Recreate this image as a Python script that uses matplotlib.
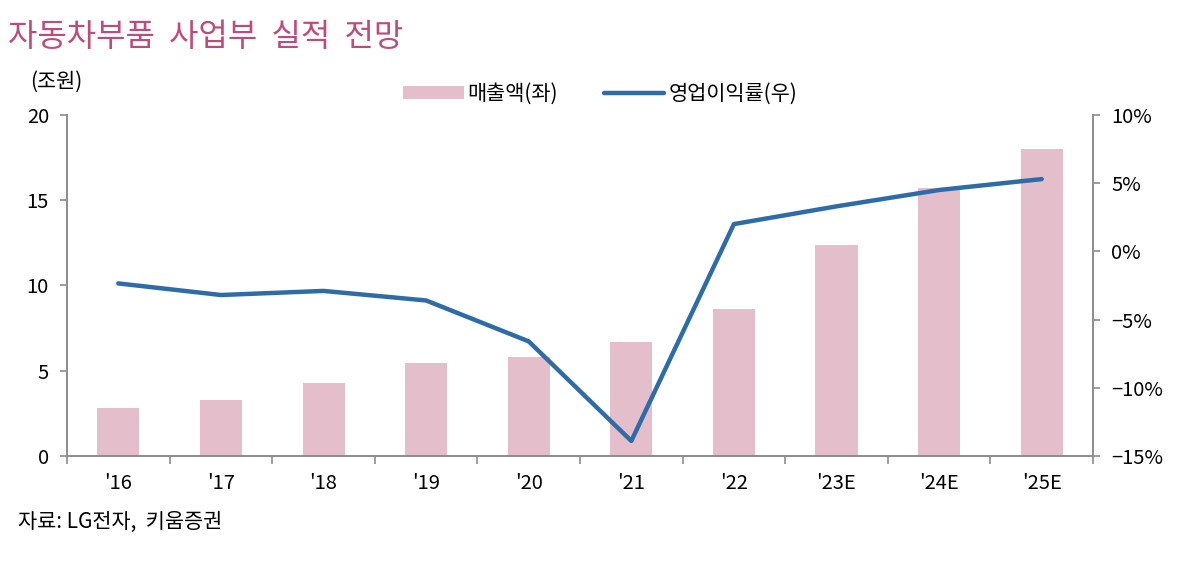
import numpy as np
import matplotlib
matplotlib.use("Agg")
import matplotlib.pyplot as plt
from matplotlib.ticker import FixedLocator, NullFormatter

plt.rcParams['font.family'] = ['Noto Sans CJK KR', 'DejaVu Sans']

# data
years = ["'16", "'17", "'18", "'19", "'20", "'21", "'22", "'23E", "'24E", "'25E"]
sales = [2.8, 3.3, 4.3, 5.45, 5.8, 6.7, 8.6, 12.4, 15.7, 18.0]   # 조원
margin = [-2.35, -3.2, -2.9, -3.6, -6.6, -13.9, 2.0, 3.3, 4.5, 5.3]  # %

bar_color = "#E4BECB"
line_color = "#2E6CA8"
axis_color = "#8C8C8C"

fig = plt.figure(figsize=(11.91, 5.65), dpi=100)
ax = fig.add_axes([0.0563, 0.193, 0.8614, 0.6035])
ax2 = ax.twinx()

x = np.arange(len(years))
ax.bar(x, sales, width=0.41, color=bar_color, label="매출액(좌)", zorder=1)
ax2.plot(x, margin, color=line_color, linewidth=3.2, label="영업이익률(우)",
         solid_capstyle="round", zorder=3)

ax.set_xlim(-0.5, len(years) - 0.5)
ax.set_ylim(0, 20)
ax.set_yticks([0, 5, 10, 15, 20])
ax2.set_ylim(-15, 10)
ax2.set_yticks([-15, -10, -5, 0, 5, 10])
ax2.set_yticklabels([("−%d%%" % -v) if v < 0 else "%d%%" % v for v in [-15, -10, -5, 0, 5, 10]])

# x ticks: labels at centers, tick marks at boundaries
ax.set_xticks(x)
ax.set_xticklabels(years)
ax.tick_params(axis="x", which="major", length=0, pad=12, labelsize=14.5)
ax.xaxis.set_minor_locator(FixedLocator(np.arange(-0.5, len(years), 1.0)))
ax.xaxis.set_minor_formatter(NullFormatter())
ax.tick_params(axis="x", which="minor", length=6, color=axis_color, width=1.2)

ax.tick_params(axis="y", length=5, color=axis_color, width=1.2, labelsize=14.5, pad=8)
ax2.tick_params(axis="y", length=5, color=axis_color, width=1.2, labelsize=14.5, pad=8)

for a in (ax, ax2):
    a.spines["top"].set_visible(False)
    for s in ("left", "right", "bottom"):
        a.spines[s].set_color(axis_color)
        a.spines[s].set_linewidth(1.4)
ax.spines["right"].set_visible(False)
ax2.spines["left"].set_visible(False)
ax2.spines["bottom"].set_visible(False)

ax.set_zorder(ax2.get_zorder() - 1)
ax2.patch.set_visible(False)

# texts
fig.text(0.007, 0.934, "자동차부품  사업부  실적  전망", fontsize=23, color="#BE4B7B",
         va="center", ha="left")
fig.text(0.025, 0.855, "(조원)", fontsize=15, va="center", ha="left")
fig.text(0.015, 0.077, "자료: LG전자,  키움증권", fontsize=15, va="center", ha="left")

h1, l1 = ax.get_legend_handles_labels()
h2, l2 = ax2.get_legend_handles_labels()
fig.legend(h1 + h2, l1 + l2, loc="center", bbox_to_anchor=(0.504, 0.834), ncol=2,
           frameon=False, fontsize=15, handlelength=2.9, handleheight=0.6,
           columnspacing=2.2, handletextpad=0.2)

fig.savefig("out.png", dpi=100)
